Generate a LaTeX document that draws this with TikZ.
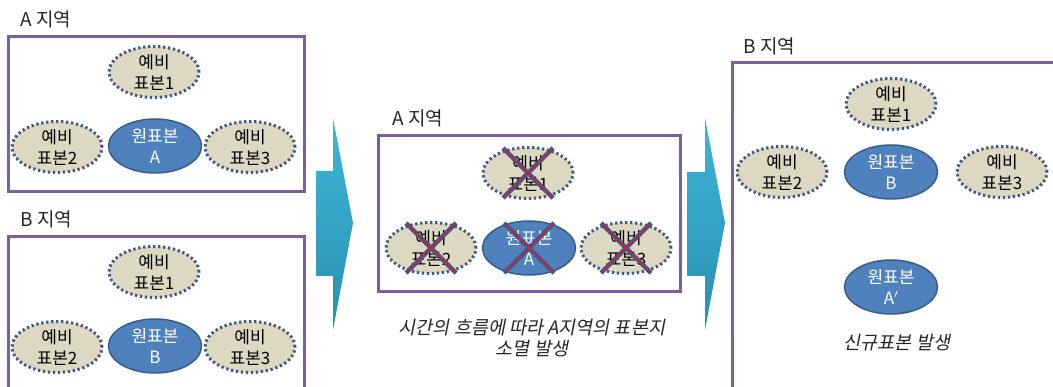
\documentclass[tikz,border=0pt]{standalone}
\usepackage{fontspec}
\newfontfamily\kr{Noto Sans CJK KR}
\newfontfamily\krit[FakeSlant=0.2]{Noto Sans CJK KR}
\usetikzlibrary{shapes.geometric}
\definecolor{boxpurple}{HTML}{7D5FA0}
\definecolor{tanfill}{HTML}{DDD8C2}
\definecolor{dotblue}{HTML}{3F5A80}
\definecolor{bluefill}{HTML}{4F81BD}
\definecolor{blueedge}{HTML}{385D8A}
\definecolor{arrtop}{HTML}{3DB6D6}
\definecolor{arrbot}{HTML}{2890B2}
\definecolor{crossred}{HTML}{A33250}
\definecolor{crossblue}{HTML}{3E5A8C}
\tikzset{
  region/.style={draw=boxpurple, line width=3pt},
  spare/.style={ellipse, fill=tanfill, draw=dotblue, line width=3pt,
    dash pattern=on 2.3pt off 2.7pt, minimum width=90pt, minimum height=51pt,
    inner sep=0pt, align=center, font=\kr\fontsize{17}{21}\selectfont, text=black},
  orig/.style={ellipse, fill=bluefill, draw=blueedge, line width=1.5pt,
    minimum width=93pt, minimum height=54pt, inner sep=0pt, align=center,
    font=\kr\fontsize{17}{21}\selectfont, text=white},
  lbl/.style={anchor=west, font=\kr\fontsize{19}{22}\selectfont, text=black!85},
  captxt/.style={align=center, font=\krit\fontsize{18.5}{21}\selectfont, text=black!85},
  crossA/.style={draw=crossblue, line width=4.5pt},
  crossB/.style={draw=crossred, line width=2pt},
}
\begin{document}
\begin{tikzpicture}[x=1pt,y=-1pt]
\useasboundingbox (0,0) rectangle (1053,387);
\clip (0,0) rectangle (1053,387);
% ---------- panel 1: A region ----------
\node[lbl] (la) at (17,19) {A 지역};
\draw[region] (8,37) rectangle (304,192);
\node[spare] (a1) at (154,72) {예비\\표본1};
\node[spare] (a2) at (57,147) {예비\\표본2};
\node[orig]  (a0) at (155,146) {원표본\\A};
\node[spare] (a3) at (250,147) {예비\\표본3};
% ---------- panel 2: B region ----------
\node[lbl] (lb) at (17,219) {B 지역};
\draw[region] (8,400) -- (8,237) -- (304,237) -- (304,400);
\node[spare] (b1) at (154,272) {예비\\표본1};
\node[spare] (b2) at (57,347) {예비\\표본2};
\node[orig]  (b0) at (155,346) {원표본\\B};
\node[spare] (b3) at (250,347) {예비\\표본3};
% ---------- arrow 1 ----------
\shade[top color=arrtop, bottom color=arrbot]
  (316,171) -- (333,171) -- (333,118) -- (353,223) -- (333,330) -- (333,276) -- (316,276) -- cycle;
% ---------- panel 3: A region after ----------
\node[lbl] (lc) at (389,118) {A 지역};
\draw[region] (378,136) rectangle (680,292);
\node[spare] (c1) at (528,173) {예비\\표본1};
\node[spare] (c2) at (431,248) {예비\\표본2};
\node[orig]  (c0) at (529,248) {원표본\\A};
\node[spare] (c3) at (626,248) {예비\\표본3};
\foreach \n in {c1,c2,c0,c3}{
  \draw[crossA] ([shift={(-25,-25)}]\n.center) -- ([shift={(25,25)}]\n.center);
  \draw[crossA] ([shift={(25,-25)}]\n.center) -- ([shift={(-25,25)}]\n.center);
  \draw[crossB] ([shift={(-24,-24)}]\n.center) -- ([shift={(24,24)}]\n.center);
  \draw[crossB] ([shift={(24,-24)}]\n.center) -- ([shift={(-24,24)}]\n.center);
}
\node[captxt] (capc) at (532,338) {시간의 흐름에 따라 A지역의 표본지\\소멸 발생};
% ---------- arrow 2 ----------
\shade[top color=arrtop, bottom color=arrbot]
  (687,172) -- (705,172) -- (705,118) -- (725,223) -- (705,330) -- (705,276) -- (687,276) -- cycle;
% ---------- panel 4: B region after ----------
\node[lbl] (ld) at (740,46) {B 지역};
\draw[region] (1060,63) -- (732,63) -- (732,400);
\node[spare] (d1) at (891,104) {예비\\표본1};
\node[spare] (d2) at (782,172) {예비\\표본2};
\node[orig]  (d0) at (891,172) {원표본\\B};
\node[spare] (d3) at (1002,172) {예비\\표본3};
\node[orig]  (d4) at (891,287) {원표본\\A$'$};
\node[captxt] (capd) at (897,343) {신규표본 발생};
\end{tikzpicture}
\end{document}
